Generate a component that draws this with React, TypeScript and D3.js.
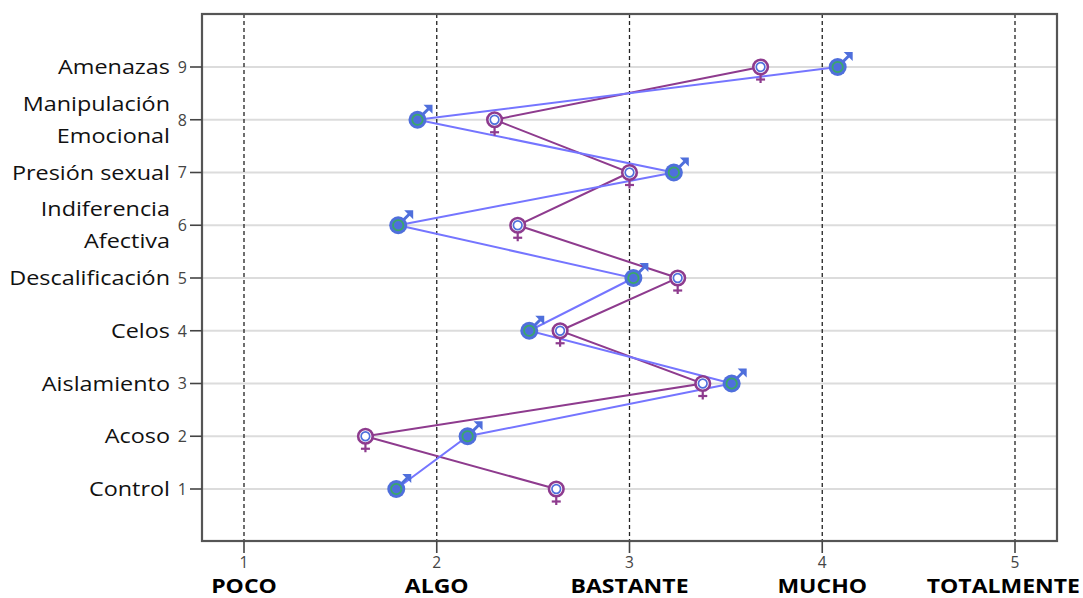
import React from "react";
import * as d3 from "d3";

const categories = ["Control", "Acoso", "Aislamiento", "Celos", "Descalificación", "Indiferencia\nAfectiva", "Presión sexual", "Manipulación\nEmocional", "Amenazas"];
const levels = [1, 2, 3, 4, 5, 6, 7, 8, 9];
const maleValues = [1.79, 2.16, 3.53, 2.48, 3.02, 1.80, 3.23, 1.90, 4.08];
const femaleValues = [2.62, 1.63, 3.38, 2.64, 3.25, 2.42, 3.0, 2.30, 3.68];
const xTicks = [1, 2, 3, 4, 5];
const xTickLabels = ["POCO", "ALGO", "BASTANTE", "MUCHO", "TOTALMENTE"];

const W = 1083, H = 598;
const frame = { left: 202, top: 14, right: 1057, bottom: 541 };
const x = d3.scaleLinear().domain([1, 5]).range([244, 1015]);
const y = d3.scaleLinear().domain([1, 9]).range([489, 67]);

const MALE_LINE = "#7575ff";
const FEMALE_LINE = "#8e3b8e";
const MALE_FILL = "#4f6fdc";
const GREEN = "#3aa86a";

function MaleMarker({ cx, cy }: { cx: number; cy: number }) {
  return (
    <g transform={`translate(${cx},${cy})`}>
      <line x1={5} y1={-5} x2={11} y2={-11} stroke={MALE_FILL} strokeWidth={3} />
      <path d="M6,-15 L15,-15 L15,-6 Z" fill={MALE_FILL} />
      <circle r={9} fill={MALE_FILL} />
      <circle r={5.2} fill="none" stroke={GREEN} strokeWidth={1.8} />
    </g>
  );
}

function FemaleMarker({ cx, cy }: { cx: number; cy: number }) {
  return (
    <g transform={`translate(${cx},${cy})`}>
      <line x1={0} y1={7} x2={0} y2={16} stroke={FEMALE_LINE} strokeWidth={2.2} />
      <line x1={-4.5} y1={12.5} x2={4.5} y2={12.5} stroke={FEMALE_LINE} strokeWidth={2.2} />
      <circle r={7.3} fill="#fff" stroke={FEMALE_LINE} strokeWidth={2.6} />
      <circle r={4.3} fill="#fff" stroke={MALE_FILL} strokeWidth={1.7} />
    </g>
  );
}

export default function App() {
  const line = d3
    .line<[number, number]>()
    .x((d) => x(d[0]))
    .y((d) => y(d[1]));
  const malePts: [number, number][] = maleValues.map((v, i) => [v, levels[i]]);
  const femalePts: [number, number][] = femaleValues.map((v, i) => [v, levels[i]]);
  const labelX = 170;

  return (
    <svg width={W} height={H} style={{ position: "absolute", left: 0, top: 0 }}>
      <rect width={W} height={H} fill="#fff" />
      {levels.map((l) => (
        <line key={"g" + l} x1={frame.left} x2={frame.right} y1={y(l)} y2={y(l)} stroke="#dcdcdc" strokeWidth={2} />
      ))}
      {xTicks.map((t) => (
        <line key={"v" + t} x1={x(t)} x2={x(t)} y1={frame.top} y2={frame.bottom} stroke="#222" strokeWidth={1.3} strokeDasharray="4,3" />
      ))}
      <rect x={frame.left} y={frame.top} width={frame.right - frame.left} height={frame.bottom - frame.top} fill="none" stroke="#555" strokeWidth={2.2} />
      {levels.map((l) => (
        <g key={"yt" + l}>
          <line x1={frame.left - 12} x2={frame.left} y1={y(l)} y2={y(l)} stroke="#444" strokeWidth={1.6} />
          <text x={187} y={y(l)} dy="0.36em" textAnchor="end" fontFamily="Open Sans" fontSize={16} fill="#444">
            {l}
          </text>
        </g>
      ))}
      <g transform={`translate(${labelX},0) scale(1.17,1) translate(${-labelX},0)`}>
        {categories.map((c, i) => {
          const parts = c.split("\n");
          return (
            <text key={"yc" + i} textAnchor="end" fontFamily="Open Sans" fontSize={20} fill="#111">
              {parts.map((p, j) => (
                <tspan key={j} x={labelX} y={y(levels[i]) + (j - (parts.length - 1) / 2) * 32} dy="0.36em">
                  {p}
                </tspan>
              ))}
            </text>
          );
        })}
      </g>
      {xTicks.map((t, i) => {
        const last = i === xTicks.length - 1;
        const lx = last ? W - 3 : x(t);
        return (
          <g key={"xt" + t}>
            <line x1={x(t)} x2={x(t)} y1={frame.bottom} y2={frame.bottom + 12} stroke="#444" strokeWidth={1.6} />
            <text x={x(t)} y={568} textAnchor="middle" fontFamily="Open Sans" fontSize={15.5} fill="#444">
              {t}
            </text>
            <g transform={`translate(${lx},0) scale(1.15,1) translate(${-lx},0)`}>
              <text x={lx} y={593} textAnchor={last ? "end" : "middle"} fontFamily="Open Sans" fontWeight="bold" fontSize={20} fill="#000">
                {xTickLabels[i]}
              </text>
            </g>
          </g>
        );
      })}
      <path d={line(femalePts) || ""} fill="none" stroke={FEMALE_LINE} strokeWidth={2} />
      <path d={line(malePts) || ""} fill="none" stroke={MALE_LINE} strokeWidth={2} />
      {malePts.map((p, i) => (
        <MaleMarker key={"m" + i} cx={x(p[0])} cy={y(p[1])} />
      ))}
      {femalePts.map((p, i) => (
        <FemaleMarker key={"f" + i} cx={x(p[0])} cy={y(p[1])} />
      ))}
    </svg>
  );
}
